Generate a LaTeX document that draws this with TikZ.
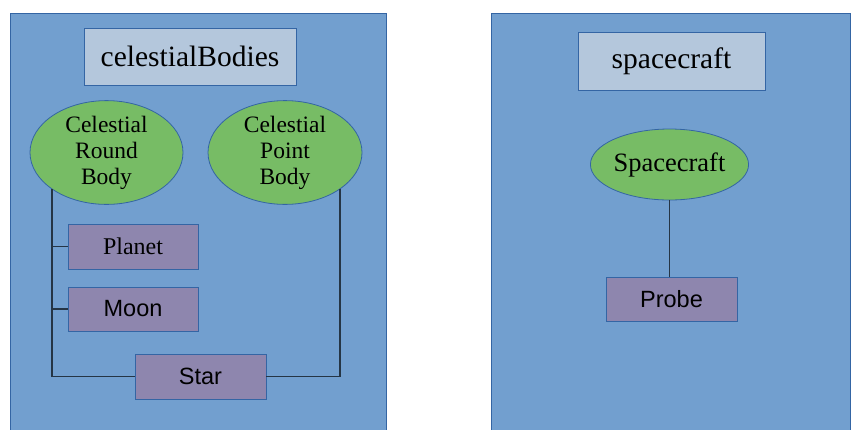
\documentclass[tikz,border=0pt]{standalone}
\usepackage{fontspec}
\setmainfont{Liberation Serif}
\setsansfont{Liberation Sans}
\usetikzlibrary{shapes.geometric}
\definecolor{panelfill}{HTML}{729FCF}
\definecolor{panelline}{HTML}{3465A4}
\definecolor{titlefill}{HTML}{B4C7DC}
\definecolor{ellfill}{HTML}{77BC65}
\definecolor{boxfill}{HTML}{8E86AE}
\definecolor{linkcol}{HTML}{253545}
\tikzset{
  panel/.style={fill=panelfill, draw=panelline, line width=0.8pt},
  titlebox/.style={rectangle, fill=titlefill, draw=panelline, line width=0.8pt, inner sep=0pt, font=\fontsize{29.5}{32}\selectfont},
  ellnode/.style={ellipse, fill=ellfill, draw=panelline, line width=0.8pt, inner sep=0pt, align=center, font=\fontsize{23.5}{26}\selectfont},
  leafbox/.style={rectangle, fill=boxfill, draw=panelline, line width=0.8pt, inner sep=0pt, font=\sffamily\fontsize{23.5}{26}\selectfont},
  link/.style={draw=linkcol, line width=1.8pt}
}
\begin{document}
\begin{tikzpicture}[x=1pt,y=-1pt]
\clip (0,0) rectangle (856,429);
\fill[white] (0,0) rectangle (856,429);
\draw[panel] (10,13) rectangle (386,445);
\draw[panel] (491,13) rectangle (850,445);

\node[titlebox, minimum width=212pt, minimum height=57pt] (t1) at (190,56.5) {celestialBodies};
\node[ellnode, minimum width=153pt, minimum height=95pt] (e1) at (106.5,152.5) {Celestial\\Round\\Body};
\node[ellnode, minimum width=154pt, minimum height=95pt] (e2) at (285,152.5) {Celestial\\Point\\Body};
\node[leafbox, minimum width=130pt, minimum height=45pt, font=\rmfamily\fontsize{24}{26}\selectfont] (planet) at (133,246.5) {Planet};
\node[leafbox, minimum width=130pt, minimum height=44pt] (moon) at (133,309) {Moon};
\node[leafbox, minimum width=131pt, minimum height=45pt] (star) at (200.5,376.5) {Star};

\draw[link] (e1.south west) |- (star.west);
\draw[link] (e2.south east) |- (star.east);
\draw[link] (planet.west) -- (planet.west -| e1.south west);
\draw[link] (moon.west) -- (moon.west -| e1.south west);

\node[titlebox, minimum width=187pt, minimum height=58pt] (t2) at (671.5,61) {spacecraft};
\node[ellnode, minimum width=155pt, minimum height=71pt, font=\fontsize{26.5}{29}\selectfont] (sc) at (669.5,164.5) {Spacecraft};
\node[leafbox, minimum width=131pt, minimum height=44pt] (probe) at (671.5,299) {Probe};
\draw[link] (sc.south) -- (sc.south |- probe.north);
\end{tikzpicture}
\end{document}
